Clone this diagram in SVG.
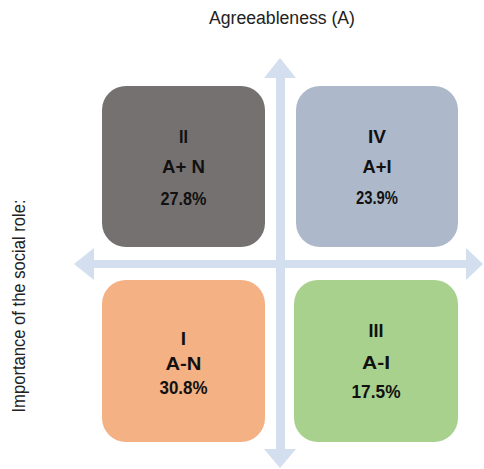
<svg xmlns="http://www.w3.org/2000/svg" width="484" height="469" viewBox="0 0 484 469">
<style>
.lbl{font-family:"Liberation Sans",Arial,sans-serif;font-size:19px;font-weight:bold;fill:#111;text-anchor:middle}
.ax{font-family:"Liberation Sans",Arial,sans-serif;font-size:18px;fill:#222;text-anchor:middle}
.arr{fill:#D3DEEF}
</style>
<rect width="484" height="469" fill="#fff"/>
<g id="connectors">
<polygon class="arr" points="276,78 264,78 280,58 296,78 285,78 285,449 296,449 280,468 264,449 276,449"/>
<polygon class="arr" points="94,260 94,248 74,264 94,280 94,268 466,268 466,280 483,264 466,248 466,260"/>
</g>
<g id="nodeII">
<rect x="102" y="86" width="163" height="161" rx="24" fill="#767171"/>
<text class="lbl" x="183.5" y="143" textLength="9" lengthAdjust="spacingAndGlyphs">II</text>
<text class="lbl" x="183.5" y="173" textLength="43" lengthAdjust="spacingAndGlyphs">A+ N</text>
<text class="lbl" x="183.5" y="205" textLength="46" lengthAdjust="spacingAndGlyphs">27.8%</text>
</g>
<g id="nodeIV">
<rect x="296" y="86" width="162" height="161" rx="24" fill="#ADB9CA"/>
<text class="lbl" x="377" y="143" textLength="18" lengthAdjust="spacingAndGlyphs">IV</text>
<text class="lbl" x="377" y="173" textLength="29" lengthAdjust="spacingAndGlyphs">A+I</text>
<text class="lbl" x="377" y="204" textLength="42" lengthAdjust="spacingAndGlyphs">23.9%</text>
</g>
<g id="nodeI">
<rect x="102" y="280" width="163" height="162" rx="24" fill="#F4B183"/>
<text class="lbl" x="183.5" y="345">I</text>
<text class="lbl" x="183.5" y="370" textLength="36" lengthAdjust="spacingAndGlyphs">A-N</text>
<text class="lbl" x="183.5" y="394" textLength="48" lengthAdjust="spacingAndGlyphs">30.8%</text>
</g>
<g id="nodeIII">
<rect x="294" y="280" width="164" height="162" rx="24" fill="#A9D18E"/>
<text class="lbl" x="376" y="337" textLength="15" lengthAdjust="spacingAndGlyphs">III</text>
<text class="lbl" x="376" y="369" textLength="28" lengthAdjust="spacingAndGlyphs">A-I</text>
<text class="lbl" x="376" y="398" textLength="49" lengthAdjust="spacingAndGlyphs">17.5%</text>
</g>
<text class="ax" x="282" y="24" textLength="146" lengthAdjust="spacingAndGlyphs">Agreeableness (A)</text>
<text class="ax" transform="translate(25,306) rotate(-90)" textLength="213" lengthAdjust="spacingAndGlyphs">Importance of the social role:</text>
</svg>
